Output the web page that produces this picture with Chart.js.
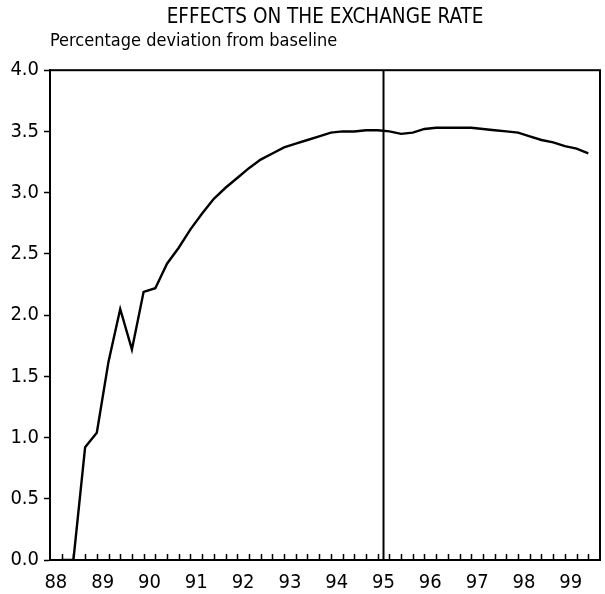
<!DOCTYPE html>
<html>
<head>
<meta charset="utf-8">
<script src="https://cdn.jsdelivr.net/npm/chart.js@4/dist/chart.umd.min.js"></script>
<style>
  html, body { margin: 0; padding: 0; background: #ffffff; }
  #wrap { width: 605px; height: 594px; }
</style>
</head>
<body>
<div id="wrap"><canvas id="c" width="605" height="594"></canvas></div>
<script>
// ---- data ----
const titleText = 'EFFECTS ON THE EXCHANGE RATE';
const subtitleText = 'Percentage deviation from baseline';

const periods = [
  '88Q1','88Q2','88Q3','88Q4','89Q1','89Q2','89Q3','89Q4',
  '90Q1','90Q2','90Q3','90Q4','91Q1','91Q2','91Q3','91Q4',
  '92Q1','92Q2','92Q3','92Q4','93Q1','93Q2','93Q3','93Q4',
  '94Q1','94Q2','94Q3','94Q4','95Q1','95Q2','95Q3','95Q4',
  '96Q1','96Q2','96Q3','96Q4','97Q1','97Q2','97Q3','97Q4',
  '98Q1','98Q2','98Q3','98Q4','99Q1','99Q2'
];
const exchangeRate = [
  0.00, 0.00, 0.92, 1.04, 1.62, 2.05, 1.72, 2.19,
  2.22, 2.42, 2.55, 2.70, 2.83, 2.95, 3.04, 3.12,
  3.20, 3.27, 3.32, 3.37, 3.40, 3.43, 3.46, 3.49,
  3.50, 3.50, 3.51, 3.51, 3.50, 3.48, 3.49, 3.52,
  3.53, 3.53, 3.53, 3.53, 3.52, 3.51, 3.50, 3.49,
  3.46, 3.43, 3.41, 3.38, 3.36, 3.32
];
const yearTicks = [88, 89, 90, 91, 92, 93, 94, 95, 96, 97, 98, 99];
const yTicks = [0, 0.5, 1.0, 1.5, 2.0, 2.5, 3.0, 3.5, 4.0];
const markerYear = 95;
const xMin = 87.875, xMax = 99.625;
const yMin = 0, yMax = 4;

// period label -> position on the time axis (middle of the quarter)
function periodToX(p) {
  const yr = parseInt(p.slice(0, 2), 10);
  const q = parseInt(p.slice(3), 10);
  return yr + (q - 0.5) / 4;
}
const seriesPoints = periods.map((p, i) => ({ x: periodToX(p), y: exchangeRate[i] }));
const markerPoints = [{ x: markerYear, y: yMin }, { x: markerYear, y: yMax }];

const FONT = "'DejaVu Sans Condensed', 'Liberation Sans Narrow', 'Noto Sans', sans-serif";

// frame + inward quarterly ticks on the time axis
const framePlugin = {
  id: 'frame',
  afterDatasetsDraw(chart) {
    const { ctx, chartArea: a, scales } = chart;
    ctx.save();
    ctx.strokeStyle = '#000';
    ctx.lineWidth = 2;
    ctx.strokeRect(a.left, a.top, a.right - a.left, a.bottom - a.top);
    ctx.lineWidth = 1.5;
    ctx.beginPath();
    seriesPoints.forEach(pt => {
      const px = Math.round(scales.x.getPixelForValue(pt.x)) + 0.5;
      ctx.moveTo(px, a.bottom);
      ctx.lineTo(px, a.bottom - 6);
    });
    ctx.stroke();
    ctx.restore();
  }
};

new Chart(document.getElementById('c'), {
  type: 'line',
  data: {
    datasets: [
      {
        data: seriesPoints,
        borderColor: '#000',
        borderWidth: 2.4,
        pointRadius: 0,
        tension: 0,
        fill: false
      },
      {
        data: markerPoints,
        borderColor: '#000',
        borderWidth: 2,
        pointRadius: 0,
        fill: false
      }
    ]
  },
  options: {
    responsive: false,
    animation: false,
    devicePixelRatio: 1,
    layout: { padding: { left: 0, right: 5, top: 0, bottom: 0 } },
    plugins: {
      legend: { display: false },
      tooltip: { enabled: false },
      title: {
        display: true,
        text: titleText,
        fullSize: false,
        color: '#000',
        font: { family: FONT, size: 20.5, weight: 'normal' },
        padding: { top: 5, bottom: 0 }
      },
      subtitle: {
        display: true,
        text: subtitleText,
        align: 'start',
        fullSize: false,
        color: '#000',
        font: { family: FONT, size: 18, weight: 'normal' },
        padding: { top: 1, bottom: 18 }
      }
    },
    scales: {
      x: {
        type: 'linear',
        min: xMin,
        max: xMax,
        afterBuildTicks(scale) { scale.ticks = yearTicks.map(v => ({ value: v })); },
        afterFit(scale) { scale.height = 34; },
        grid: { display: false },
        border: { display: true, color: '#000', width: 2 },
        ticks: {
          color: '#000',
          padding: 3,
          maxRotation: 0,
          autoSkip: false,
          font: { family: FONT, size: 20 },
          callback: v => String(v)
        }
      },
      y: {
        type: 'linear',
        min: yMin,
        max: yMax,
        afterBuildTicks(scale) { scale.ticks = yTicks.map(v => ({ value: v })); },
        afterFit(scale) { scale.width = 50; },
        grid: { drawOnChartArea: false, drawTicks: true, tickLength: 6, color: '#000', tickColor: '#000', tickWidth: 1.5 },
        border: { display: true, color: '#000', width: 2 },
        ticks: {
          color: '#000',
          padding: 5,
          font: { family: FONT, size: 20 },
          callback: v => Number(v).toFixed(1)
        }
      }
    }
  },
  plugins: [framePlugin]
});
</script>
</body>
</html>
